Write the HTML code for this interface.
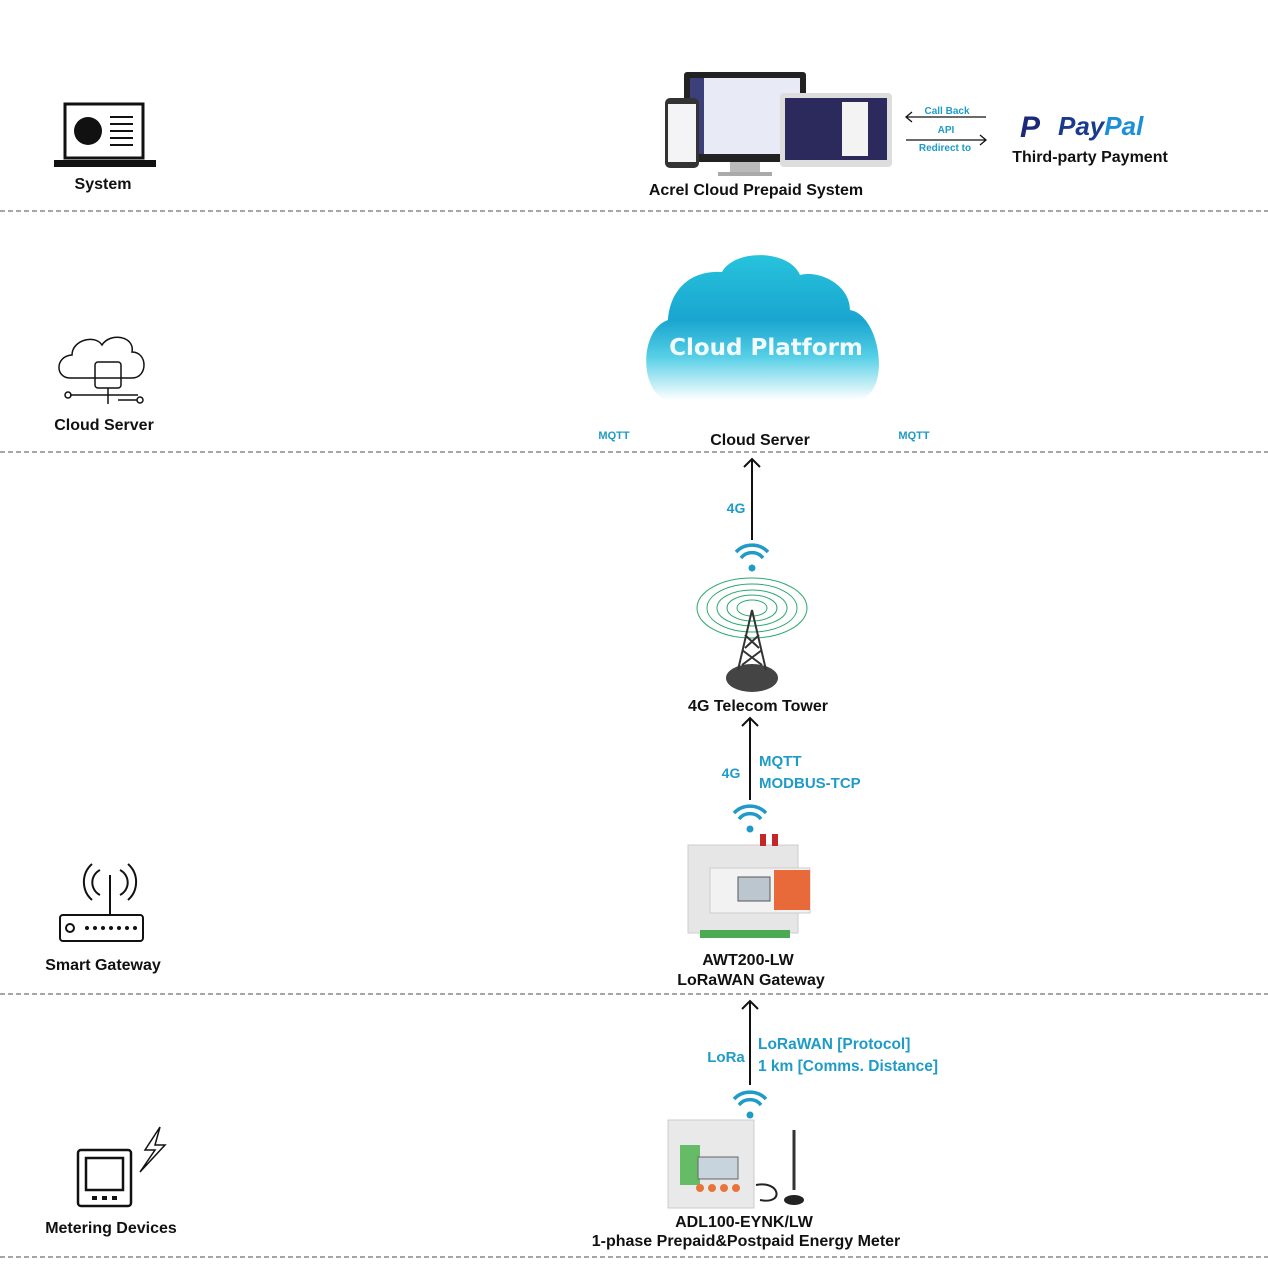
<!DOCTYPE html>
<html><head><meta charset="utf-8"><style>
html,body{margin:0;padding:0;background:#fff}
svg{display:block}
text{font-family:"Liberation Sans",sans-serif;font-weight:bold}
.k{fill:#111;font-size:16px}
.b{fill:#1f9bc7}
</style></head><body>
<svg width="1268" height="1275" viewBox="0 0 1268 1275" xmlns="http://www.w3.org/2000/svg">
<defs>
<linearGradient id="cg" x1="0" y1="0" x2="0" y2="1">
<stop offset="0" stop-color="#27c3dd"/><stop offset="0.45" stop-color="#1aa5cf"/><stop offset="0.7" stop-color="#55cfe6"/><stop offset="1" stop-color="#ffffff"/>
</linearGradient>
</defs>
<g stroke="#888" stroke-width="1.5" stroke-dasharray="5,3">
<line x1="0" y1="211" x2="1268" y2="211"/><line x1="0" y1="452" x2="1268" y2="452"/>
<line x1="0" y1="994" x2="1268" y2="994"/><line x1="0" y1="1257" x2="1268" y2="1257"/>
</g>
<!-- System icon -->
<rect x="65" y="104" width="78" height="54" fill="#fff" stroke="#111" stroke-width="3"/>
<rect x="54" y="160" width="102" height="7" fill="#111"/>
<circle cx="88" cy="131" r="14" fill="#111"/>
<g stroke="#111" stroke-width="2"><line x1="110" y1="117" x2="133" y2="117"/><line x1="110" y1="124" x2="133" y2="124"/><line x1="110" y1="131" x2="133" y2="131"/><line x1="110" y1="138" x2="133" y2="138"/><line x1="110" y1="145" x2="133" y2="145"/></g>
<text x="103" y="189" class="k" text-anchor="middle">System</text>
<!-- devices -->
<rect x="684" y="72" width="122" height="90" rx="3" fill="#222"/>
<rect x="690" y="78" width="110" height="76" fill="#e8eaf5"/>
<rect x="690" y="78" width="14" height="76" fill="#3b3f7a"/>
<rect x="730" y="162" width="30" height="12" fill="#bbb"/><rect x="718" y="172" width="54" height="4" fill="#aaa"/>
<rect x="665" y="98" width="34" height="70" rx="5" fill="#333"/><rect x="668" y="104" width="28" height="58" fill="#f4f4f6"/>
<rect x="780" y="93" width="112" height="74" rx="4" fill="#ddd"/><rect x="785" y="98" width="102" height="62" fill="#2c2a5c"/>
<rect x="842" y="102" width="26" height="54" fill="#f3f3f3"/>
<text x="756" y="195" class="k" text-anchor="middle">Acrel Cloud Prepaid System</text>
<line x1="907" y1="117" x2="986" y2="117" stroke="#111" stroke-width="1.3"/><path d="M912,112 L906,117 L912,122" fill="none" stroke="#111" stroke-width="1.3"/>
<line x1="906" y1="140" x2="985" y2="140" stroke="#111" stroke-width="1.3"/><path d="M980,135 L986,140 L980,145" fill="none" stroke="#111" stroke-width="1.3"/>
<text x="947" y="114" class="b" font-size="10" text-anchor="middle">Call Back</text>
<text x="946" y="133" class="b" font-size="10" text-anchor="middle">API</text>
<text x="945" y="151" class="b" font-size="10" text-anchor="middle">Redirect to</text>
<text x="1020" y="137" font-size="30" font-style="italic" fill="#1a2a78">P</text>
<text x="1058" y="135" font-size="26" font-style="italic" fill="#1a3a8c">Pay<tspan fill="#1d8fd6">Pal</tspan></text>
<text x="1090" y="162" class="k" text-anchor="middle">Third-party Payment</text>
<!-- Cloud server icon -->
<g fill="none" stroke="#111" stroke-width="1.5">
<path d="M70,378 C55,378 55,356 72,355 C72,340 95,334 102,345 C110,332 135,336 132,352 C148,352 148,378 132,378 Z"/>
<rect x="95" y="362" width="26" height="26" rx="3"/>
<line x1="108" y1="388" x2="108" y2="404"/><line x1="70" y1="395" x2="138" y2="395"/>
<circle cx="68" cy="395" r="3"/><circle cx="140" cy="400" r="3"/><line x1="118" y1="400" x2="137" y2="400"/>
</g>
<text x="104" y="430" class="k" text-anchor="middle">Cloud Server</text>
<!-- Cloud -->
<path d="M668,400 C640,395 638,330 668,320 C670,290 690,270 722,272 C735,248 790,250 800,275 C820,270 850,285 850,310 C880,315 892,390 860,400 Z" fill="url(#cg)"/>
<text x="766" y="355" font-size="23" fill="#f2fbff" text-anchor="middle" style="font-family:'DejaVu Sans',sans-serif">Cloud Platform</text>
<text x="614" y="439" class="b" font-size="11" text-anchor="middle">MQTT</text>
<text x="914" y="439" class="b" font-size="11" text-anchor="middle">MQTT</text>
<text x="760" y="445" class="k" text-anchor="middle">Cloud Server</text>
<!-- arrows -->
<g fill="none" stroke="#111" stroke-width="2">
<line x1="752" y1="540" x2="752" y2="459"/><path d="M744,467 L752,459 L760,467"/>
<line x1="750" y1="800" x2="750" y2="718"/><path d="M742,726 L750,718 L758,726"/>
<line x1="750" y1="1085" x2="750" y2="1001"/><path d="M742,1009 L750,1001 L758,1009"/>
</g>
<text x="736" y="513" class="b" font-size="14" text-anchor="middle">4G</text>
<g fill="none" stroke="#1f9bc7" stroke-width="3.5">
<path d="M736,552 A22,22 0 0 1 768,552"/><path d="M741,558 A14,14 0 0 1 763,558"/>
</g><circle cx="752" cy="568" r="3.5" fill="#1f9bc7"/>
<!-- tower -->
<g fill="none" stroke="#2aa86a" stroke-width="1">
<ellipse cx="752" cy="608" rx="55" ry="30"/><ellipse cx="752" cy="608" rx="45" ry="24"/><ellipse cx="752" cy="608" rx="35" ry="18"/><ellipse cx="752" cy="608" rx="25" ry="13"/><ellipse cx="752" cy="608" rx="15" ry="8"/>
</g>
<ellipse cx="752" cy="678" rx="26" ry="14" fill="#444"/>
<path d="M752,610 L738,670 M752,610 L766,670 M742,650 L762,665 M762,650 L742,665 M745,635 L759,648 M759,635 L745,648" stroke="#333" stroke-width="2"/>
<text x="758" y="711" class="k" text-anchor="middle">4G Telecom Tower</text>
<text x="731" y="778" class="b" font-size="14" text-anchor="middle">4G</text>
<text x="759" y="766" class="b" font-size="15">MQTT</text>
<text x="759" y="788" class="b" font-size="15">MODBUS-TCP</text>
<g fill="none" stroke="#1f9bc7" stroke-width="3.5">
<path d="M734,813 A22,22 0 0 1 766,813"/><path d="M739,819 A14,14 0 0 1 761,819"/>
</g><circle cx="750" cy="829" r="3.5" fill="#1f9bc7"/>
<!-- gateway -->
<rect x="688" y="845" width="110" height="88" fill="#e6e6e6" stroke="#ccc"/>
<rect x="710" y="868" width="100" height="45" fill="#f2f2f2" stroke="#ccc"/>
<rect x="774" y="870" width="36" height="40" fill="#e86a3a"/>
<rect x="738" y="877" width="32" height="24" fill="#bcc6cf" stroke="#555"/>
<rect x="760" y="834" width="6" height="12" fill="#c0282c"/><rect x="772" y="834" width="6" height="12" fill="#c0282c"/>
<rect x="700" y="930" width="90" height="8" fill="#4caa55"/>
<text x="748" y="965" class="k" text-anchor="middle">AWT200-LW</text>
<text x="751" y="985" class="k" text-anchor="middle">LoRaWAN Gateway</text>
<!-- smart gateway icon -->
<g fill="none" stroke="#111" stroke-width="2">
<rect x="60" y="915" width="83" height="26" rx="3"/><line x1="110" y1="915" x2="110" y2="875"/>
<circle cx="70" cy="928" r="4"/>
<path d="M100,870 A14,14 0 0 0 100,895"/><path d="M92,864 A24,24 0 0 0 92,900"/>
<path d="M120,870 A14,14 0 0 1 120,895"/><path d="M128,864 A24,24 0 0 1 128,900"/>
</g>
<g fill="#111"><circle cx="87" cy="928" r="2"/><circle cx="95" cy="928" r="2"/><circle cx="103" cy="928" r="2"/><circle cx="111" cy="928" r="2"/><circle cx="119" cy="928" r="2"/><circle cx="127" cy="928" r="2"/><circle cx="135" cy="928" r="2"/></g>
<text x="103" y="970" class="k" text-anchor="middle">Smart Gateway</text>
<!-- lora -->
<text x="726" y="1062" class="b" font-size="15" text-anchor="middle">LoRa</text>
<text x="758" y="1049" class="b" font-size="15.5">LoRaWAN [Protocol]</text>
<text x="758" y="1071" class="b" font-size="15.5">1 km [Comms. Distance]</text>
<g fill="none" stroke="#1f9bc7" stroke-width="3.5">
<path d="M734,1099 A22,22 0 0 1 766,1099"/><path d="M739,1105 A14,14 0 0 1 761,1105"/>
</g><circle cx="750" cy="1115" r="3.5" fill="#1f9bc7"/>
<!-- meter -->
<rect x="668" y="1120" width="86" height="88" fill="#e9e9e9" stroke="#ccc"/>
<rect x="680" y="1145" width="20" height="40" fill="#66bb66"/>
<rect x="698" y="1157" width="40" height="22" fill="#c7d3dd" stroke="#666"/>
<g fill="#e8743a"><circle cx="700" cy="1188" r="4"/><circle cx="712" cy="1188" r="4"/><circle cx="724" cy="1188" r="4"/><circle cx="736" cy="1188" r="4"/></g>
<line x1="794" y1="1130" x2="794" y2="1190" stroke="#333" stroke-width="3"/>
<ellipse cx="794" cy="1200" rx="10" ry="5" fill="#222"/>
<path d="M756,1185 C780,1180 785,1205 760,1200" fill="none" stroke="#222" stroke-width="2"/>
<text x="744" y="1227" class="k" text-anchor="middle">ADL100-EYNK/LW</text>
<text x="746" y="1246" class="k" text-anchor="middle">1-phase Prepaid&amp;Postpaid Energy Meter</text>
<!-- metering icon -->
<g fill="none" stroke="#111" stroke-width="2.5">
<rect x="78" y="1150" width="53" height="56" rx="3"/><rect x="86" y="1158" width="37" height="32"/>
<path d="M160,1127 L145,1150 L155,1150 L140,1172 L165,1145 L155,1145 Z" stroke-width="1.5"/>
</g>
<g fill="#111"><rect x="92" y="1196" width="5" height="4"/><rect x="102" y="1196" width="5" height="4"/><rect x="112" y="1196" width="5" height="4"/></g>
<text x="111" y="1233" class="k" text-anchor="middle">Metering Devices</text>
</svg>
</body></html>
